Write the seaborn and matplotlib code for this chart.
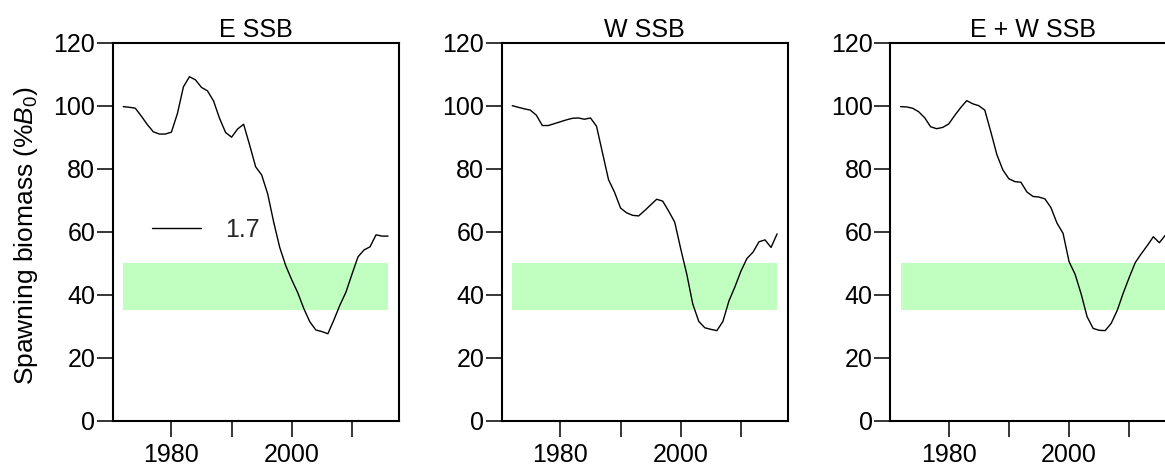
import matplotlib
matplotlib.use("Agg")
import matplotlib.pyplot as plt
import numpy as np
import pandas as pd
import seaborn as sns

# Spawning stock biomass trajectories (% of unfished biomass B0)
years = list(range(1972, 2017))

ssb_east = [99.7, 99.5, 99.2, 96.7, 94.0, 91.7, 91.0, 91.0, 91.6, 97.5,
            106.0, 109.2, 108.2, 105.8, 104.7, 101.5, 96.0, 91.5, 90.0, 92.6,
            94.1, 87.5, 80.6, 78.0, 72.0, 63.0, 55.0, 49.2, 44.7, 40.6,
            35.6, 31.4, 28.8, 28.3, 27.6, 32.0, 36.7, 40.8, 46.5, 52.0,
            54.2, 55.2, 59.0, 58.6, 58.6]

ssb_west = [100.0, 99.5, 99.0, 98.6, 97.0, 93.7, 93.7, 94.3, 94.9, 95.5,
            96.0, 96.1, 95.7, 96.1, 93.5, 85.0, 76.5, 72.5, 67.5, 66.0,
            65.2, 65.0, 66.7, 68.5, 70.3, 69.7, 66.5, 63.0, 54.5, 46.5,
            37.0, 31.5, 29.5, 29.0, 28.6, 31.5, 38.0, 42.5, 47.5, 51.5,
            53.5, 56.8, 57.4, 55.0, 59.3]

ssb_total = [99.7, 99.6, 99.2, 98.1, 96.2, 93.3, 92.7, 93.1, 94.2, 96.9,
             99.4, 101.6, 100.6, 100.0, 98.6, 91.7, 84.5, 79.6, 76.8, 75.9,
             75.7, 72.6, 71.2, 71.0, 70.4, 67.6, 62.7, 59.5, 50.5, 46.5,
             40.3, 33.0, 29.3, 28.7, 28.6, 30.9, 35.0, 40.5, 45.5, 50.2,
             53.0, 55.6, 58.4, 56.5, 58.9]

panel_titles = ["E SSB", "W SSB", "E + W SSB"]
series_label = "1.7"

# Target range (% B0)
band_low = 35
band_high = 50

y_ticks = [0, 20, 40, 60, 80, 100, 120]
x_ticks = [1980, 1990, 2000, 2010]
x_tick_labels = ["1980", "", "2000", ""]

sns.set_theme(style="white")
plt.rcParams["font.family"] = ["Liberation Sans", "DejaVu Sans"]
plt.rcParams["mathtext.fontset"] = "custom"
plt.rcParams["mathtext.rm"] = "Liberation Sans"
plt.rcParams["mathtext.it"] = "Liberation Sans:italic"

fig = plt.figure(figsize=(11.65, 4.66), dpi=100)
lefts = [0.0967, 0.4306, 0.7639]
width, bottom, height = 0.2455, 0.0972, 0.8112

series = [ssb_east, ssb_west, ssb_total]
for i, (vals, title) in enumerate(zip(series, panel_titles)):
    ax = fig.add_axes([lefts[i], bottom, width, height])
    df = pd.DataFrame({"year": years, "ssb": vals})

    ax.fill_between(years, band_low, band_high, color="#C1FFC1", lw=0, zorder=1)
    sns.lineplot(data=df, x="year", y="ssb", ax=ax, color="black", lw=1.0,
                 label=series_label if i == 0 else None, legend=False, zorder=3)

    span = years[-1] - years[0]
    ax.set_xlim(years[0] - 0.04 * span, years[-1] + 0.04 * span)
    ax.set_ylim(0, 120)
    ax.set_yticks(y_ticks)
    ax.set_yticklabels([str(v) for v in y_ticks])
    ax.set_xticks(x_ticks)
    ax.set_xticklabels(x_tick_labels)
    ax.tick_params(axis="both", which="both", direction="out", length=11.5,
                   width=1.1, color="black", labelsize=18, labelcolor="black",
                   left=True, bottom=True)
    ax.tick_params(axis="y", pad=1)
    ax.tick_params(axis="x", pad=4.5)
    for sp in ax.spines.values():
        sp.set_visible(True)
        sp.set_color("black")
        sp.set_linewidth(1.5)
    ax.set_xlabel("")
    ax.set_ylabel("")
    ax.set_title(title, fontsize=18, pad=4, color="black")

    if i == 0:
        ax.set_ylabel(r"Spawning biomass (%$B_0$)", fontsize=19, color="black")
        ax.yaxis.set_label_coords(-0.255, 0.49)
        ax.legend(loc="center left", bbox_to_anchor=(0.137, 0.5045),
                  frameon=False, fontsize=18, handlelength=1.95,
                  handletextpad=1.0, borderpad=0, borderaxespad=0)

fig.savefig("out.png", dpi=100)
